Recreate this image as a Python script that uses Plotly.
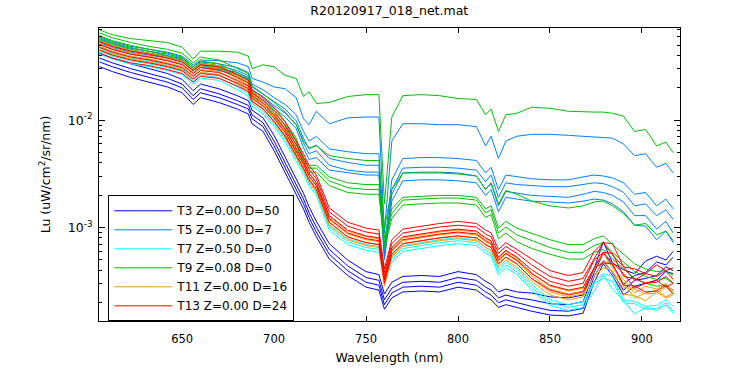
import plotly.graph_objects as go

wavelength_nm = [605, 612, 622, 632, 642, 650, 656, 660, 670, 680, 686, 688, 694, 700, 706, 712,
                 716, 719, 723, 730, 740, 750, 757, 760, 764, 770, 780, 790, 800, 810, 815, 818,
                 822, 826, 832, 840, 850, 860, 868, 874, 879, 884, 890, 896, 902, 908, 913, 917]

# T3 Z=0.00 D=50
t3_a = [0.0421, 0.0379, 0.0335, 0.0302, 0.0272, 0.0240, 0.0188, 0.0217, 0.0196, 0.0169, 0.0152, 0.0124, 0.0105,
        0.00722, 0.00458, 0.00290, 0.00208, 0.00156, 0.00114, 0.000707, 0.000497, 0.000388, 0.000364, 0.000240,
        0.000309, 0.000350, 0.000357, 0.000350, 0.000388, 0.000364, 0.000315, 0.000296, 0.000251, 0.000267, 0.000251,
        0.000245, 0.000226, 0.000221, 0.000235, 0.000412, 0.000737, 0.000467, 0.000404, 0.000372, 0.000487, 0.000540,
        0.000497, 0.000599]
t3_b = [0.0379, 0.0342, 0.0302, 0.0272, 0.0245, 0.0217, 0.0169, 0.0196, 0.0176, 0.0152, 0.0137, 0.0112, 0.00946,
        0.00638, 0.00404, 0.00256, 0.00184, 0.00137, 0.00101, 0.000625, 0.000439, 0.000342, 0.000322, 0.000212,
        0.000272, 0.000309, 0.000315, 0.000309, 0.000342, 0.000322, 0.000278, 0.000261, 0.000221, 0.000235, 0.000221,
        0.000212, 0.000195, 0.000191, 0.000204, 0.000380, 0.000575, 0.000448, 0.000296, 0.000357, 0.000380, 0.000477,
        0.000448, 0.000529]
t3_c = [0.0349, 0.0315, 0.0278, 0.0250, 0.0226, 0.0200, 0.0156, 0.0180, 0.0162, 0.0140, 0.0127, 0.0103, 0.00871,
        0.00575, 0.00364, 0.00231, 0.00166, 0.00124, 0.000907, 0.000563, 0.000396, 0.000309, 0.000290, 0.000191,
        0.000245, 0.000278, 0.000284, 0.000278, 0.000309, 0.000290, 0.000251, 0.000235, 0.000199, 0.000212, 0.000199,
        0.000184, 0.000169, 0.000166, 0.000176, 0.000350, 0.000487, 0.000380, 0.000261, 0.000322, 0.000335, 0.000357,
        0.000430, 0.000396]
t3_d = [0.0315, 0.0284, 0.0250, 0.0226, 0.0204, 0.0180, 0.0140, 0.0162, 0.0146, 0.0127, 0.0114, 0.00926, 0.00785,
        0.00518, 0.00328, 0.00208, 0.00149, 0.00112, 0.000818, 0.000508, 0.000357, 0.000278, 0.000261, 0.000173,
        0.000221, 0.000251, 0.000256, 0.000251, 0.000278, 0.000261, 0.000226, 0.000212, 0.000180, 0.000191, 0.000180,
        0.000166, 0.000153, 0.000150, 0.000159, 0.000309, 0.000458, 0.000357, 0.000235, 0.000284, 0.000302, 0.000322,
        0.000388, 0.000372]

# T5 Z=0.00 D=7
t5_a = [0.0600, 0.0540, 0.0487, 0.0457, 0.0430, 0.0395, 0.0328, 0.0364, 0.0357, 0.0342, 0.0315, 0.0245, 0.0226,
        0.0204, 0.0196, 0.0162, 0.0103, 0.00907, 0.0121, 0.00926, 0.0105, 0.0107, 0.0107, 0.000889, 0.00638,
        0.00926, 0.00926, 0.00907, 0.00907, 0.00871, 0.00575, 0.00708, 0.00439, 0.00638, 0.00708, 0.00738, 0.00738,
        0.00722, 0.00708, 0.00693, 0.00693, 0.00679, 0.00600, 0.00467, 0.00487, 0.00364, 0.00396, 0.00322]
t5_b = [0.0575, 0.0518, 0.0467, 0.0439, 0.0412, 0.0379, 0.0315, 0.0349, 0.0335, 0.0309, 0.0278, 0.0217, 0.0192,
        0.0162, 0.0140, 0.0112, 0.00785, 0.00638, 0.00708, 0.00540, 0.00508, 0.00487, 0.00487, 0.000651, 0.00278,
        0.00439, 0.00448, 0.00448, 0.00439, 0.00421, 0.00322, 0.00364, 0.00226, 0.00308, 0.00296, 0.00284, 0.00278,
        0.00278, 0.00296, 0.00308, 0.00302, 0.00290, 0.00261, 0.00204, 0.00212, 0.00159, 0.00184, 0.00149]
t5_c = [0.0552, 0.0497, 0.0448, 0.0421, 0.0395, 0.0364, 0.0302, 0.0335, 0.0322, 0.0290, 0.0261, 0.0204, 0.0176,
        0.0149, 0.0127, 0.00986, 0.00679, 0.00540, 0.00587, 0.00439, 0.00404, 0.00380, 0.00380, 0.000563, 0.00226,
        0.00357, 0.00364, 0.00364, 0.00357, 0.00342, 0.00267, 0.00308, 0.00191, 0.00261, 0.00251, 0.00245, 0.00240,
        0.00240, 0.00251, 0.00261, 0.00256, 0.00240, 0.00212, 0.00159, 0.00166, 0.00129, 0.00146, 0.00119]
t5_d = [0.0529, 0.0477, 0.0430, 0.0404, 0.0379, 0.0349, 0.0290, 0.0322, 0.0302, 0.0278, 0.0250, 0.0192, 0.0166,
        0.0137, 0.0116, 0.00907, 0.00612, 0.00487, 0.00518, 0.00380, 0.00342, 0.00328, 0.00328, 0.000529, 0.00204,
        0.00322, 0.00328, 0.00328, 0.00322, 0.00302, 0.00226, 0.00256, 0.00159, 0.00217, 0.00208, 0.00199, 0.00195,
        0.00191, 0.00204, 0.00217, 0.00212, 0.00199, 0.00173, 0.00129, 0.00129, 0.000966, 0.00114, 0.000889]
t5_e = [0.0507, 0.0457, 0.0412, 0.0387, 0.0364, 0.0335, 0.0278, 0.0309, 0.0290, 0.0267, 0.0240, 0.0184, 0.0156,
        0.0129, 0.0107, 0.00835, 0.00552, 0.00430, 0.00448, 0.00342, 0.00322, 0.00308, 0.00308, 0.000497, 0.00176,
        0.00272, 0.00278, 0.00278, 0.00272, 0.00261, 0.00199, 0.00226, 0.00140, 0.00191, 0.00184, 0.00176, 0.00173,
        0.00169, 0.00176, 0.00184, 0.00180, 0.00166, 0.00140, 0.00105, 0.00103, 0.000769, 0.000926, 0.000722]

# T7 Z=0.50 D=0
t7_a = [0.0467, 0.0421, 0.0379, 0.0357, 0.0328, 0.0302, 0.0245, 0.0278, 0.0267, 0.0217, 0.0188, 0.0152, 0.0129,
        0.00986, 0.00708, 0.00477, 0.00357, 0.00278, 0.00226, 0.00107, 0.000785, 0.000693, 0.000665, 0.000342,
        0.000540, 0.000679, 0.000722, 0.000769, 0.000801, 0.000769, 0.000651, 0.000612, 0.000412, 0.000477, 0.000412,
        0.000296, 0.000212, 0.000191, 0.000204, 0.000315, 0.000372, 0.000350, 0.000212, 0.000204, 0.000184, 0.000188,
        0.000212, 0.000184]
t7_b = [0.0439, 0.0395, 0.0357, 0.0335, 0.0309, 0.0284, 0.0230, 0.0261, 0.0250, 0.0204, 0.0176, 0.0143, 0.0121,
        0.00926, 0.00665, 0.00448, 0.00335, 0.00261, 0.00212, 0.00101, 0.000737, 0.000651, 0.000625, 0.000322,
        0.000508, 0.000638, 0.000679, 0.000722, 0.000753, 0.000722, 0.000612, 0.000575, 0.000388, 0.000448, 0.000388,
        0.000278, 0.000199, 0.000180, 0.000191, 0.000302, 0.000335, 0.000315, 0.000199, 0.000195, 0.000173, 0.000176,
        0.000199, 0.000166]
t7_c = [0.0412, 0.0372, 0.0335, 0.0315, 0.0290, 0.0267, 0.0217, 0.0245, 0.0235, 0.0192, 0.0166, 0.0135, 0.0114,
        0.00871, 0.00625, 0.00421, 0.00315, 0.00245, 0.00199, 0.000946, 0.000693, 0.000612, 0.000587, 0.000302,
        0.000477, 0.000599, 0.000638, 0.000679, 0.000707, 0.000679, 0.000575, 0.000540, 0.000364, 0.000421, 0.000364,
        0.000261, 0.000188, 0.000169, 0.000180, 0.000256, 0.000364, 0.000267, 0.000208, 0.000156, 0.000180, 0.000169,
        0.000191, 0.000159]

# T9 Z=0.08 D=0
t9_a = [0.0693, 0.0625, 0.0575, 0.0552, 0.0529, 0.0477, 0.0372, 0.0439, 0.0439, 0.0430, 0.0395, 0.0302, 0.0328,
        0.0315, 0.0261, 0.0245, 0.0166, 0.0184, 0.0143, 0.0146, 0.0166, 0.0173, 0.0173, 0.00166, 0.0107,
        0.0169, 0.0173, 0.0169, 0.0159, 0.0156, 0.0112, 0.0127, 0.00785, 0.0112, 0.0116, 0.0132, 0.0129,
        0.0121, 0.0119, 0.0119, 0.0119, 0.0116, 0.0109, 0.00785, 0.00818, 0.00575, 0.00625, 0.00497]
t9_b = [0.0651, 0.0587, 0.0529, 0.0487, 0.0457, 0.0421, 0.0342, 0.0387, 0.0364, 0.0302, 0.0272, 0.0208, 0.0176,
        0.0146, 0.0119, 0.00907, 0.00638, 0.00552, 0.00575, 0.00467, 0.00439, 0.00421, 0.00421, 0.000986, 0.00226,
        0.00322, 0.00322, 0.00322, 0.00315, 0.00302, 0.00226, 0.00261, 0.00166, 0.00221, 0.00204, 0.00176, 0.00159,
        0.00152, 0.00159, 0.00173, 0.00176, 0.00159, 0.00135, 0.00105, 0.00109, 0.000853, 0.000926, 0.000753]
t9_c = [0.0612, 0.0552, 0.0497, 0.0457, 0.0421, 0.0387, 0.0315, 0.0357, 0.0335, 0.0278, 0.0245, 0.0188, 0.0152,
        0.0124, 0.00966, 0.00679, 0.00448, 0.00380, 0.00380, 0.00296, 0.00261, 0.00251, 0.00251, 0.000801, 0.00149,
        0.00191, 0.00195, 0.00199, 0.00199, 0.00191, 0.00149, 0.00159, 0.000986, 0.00114, 0.000986, 0.000889,
        0.000769, 0.000693, 0.000693, 0.000785, 0.000835, 0.000693, 0.000563, 0.000458, 0.000412, 0.000388,
        0.000396, 0.000357]
t9_d = [0.0587, 0.0529, 0.0477, 0.0439, 0.0404, 0.0372, 0.0302, 0.0342, 0.0322, 0.0267, 0.0235, 0.0180, 0.0146,
        0.0116, 0.00907, 0.00638, 0.00421, 0.00357, 0.00357, 0.00272, 0.00235, 0.00226, 0.00226, 0.000722, 0.00135,
        0.00180, 0.00184, 0.00188, 0.00188, 0.00180, 0.00137, 0.00146, 0.000889, 0.00101, 0.000853, 0.000753,
        0.000651, 0.000587, 0.000587, 0.000679, 0.000722, 0.000587, 0.000477, 0.000388, 0.000350, 0.000328,
        0.000335, 0.000302]
t9_e = [0.0563, 0.0507, 0.0457, 0.0421, 0.0387, 0.0357, 0.0290, 0.0328, 0.0309, 0.0256, 0.0226, 0.0169, 0.0137,
        0.0109, 0.00853, 0.00600, 0.00396, 0.00328, 0.00328, 0.00245, 0.00212, 0.00204, 0.00204, 0.000651, 0.00121,
        0.00162, 0.00166, 0.00169, 0.00169, 0.00162, 0.00124, 0.00132, 0.000785, 0.000889, 0.000737, 0.000638,
        0.000563, 0.000508, 0.000508, 0.000587, 0.000625, 0.000508, 0.000412, 0.000335, 0.000302, 0.000284,
        0.000290, 0.000261]

# T11 Z=0.00 D=16
t11_a = [0.0552, 0.0497, 0.0448, 0.0421, 0.0387, 0.0357, 0.0296, 0.0335, 0.0322, 0.0261, 0.0226, 0.0184, 0.0156,
         0.0116, 0.00835, 0.00552, 0.00413, 0.00322, 0.00261, 0.00126, 0.000926, 0.000818, 0.000785, 0.000342,
         0.000638, 0.000801, 0.000853, 0.000907, 0.000946, 0.000907, 0.000785, 0.000737, 0.000518, 0.000599,
         0.000518, 0.000380, 0.000284, 0.000256, 0.000272, 0.000404, 0.000575, 0.000421, 0.000328, 0.000245,
         0.000284, 0.000267, 0.000302, 0.000251]
t11_b = [0.0518, 0.0467, 0.0421, 0.0395, 0.0364, 0.0335, 0.0278, 0.0315, 0.0302, 0.0245, 0.0212, 0.0173, 0.0146,
         0.0109, 0.00785, 0.00518, 0.00388, 0.00302, 0.00245, 0.00119, 0.000870, 0.000769, 0.000737, 0.000322,
         0.000599, 0.000753, 0.000801, 0.000853, 0.000889, 0.000853, 0.000737, 0.000693, 0.000487, 0.000563,
         0.000487, 0.000357, 0.000267, 0.000240, 0.000256, 0.000412, 0.000487, 0.000458, 0.000278, 0.000267,
         0.000240, 0.000245, 0.000278, 0.000240]
t11_c = [0.0487, 0.0439, 0.0395, 0.0372, 0.0342, 0.0315, 0.0261, 0.0296, 0.0284, 0.0230, 0.0200, 0.0162, 0.0137,
         0.0103, 0.00738, 0.00487, 0.00364, 0.00284, 0.00231, 0.00112, 0.000818, 0.000722, 0.000693, 0.000302,
         0.000563, 0.000707, 0.000753, 0.000801, 0.000835, 0.000801, 0.000693, 0.000651, 0.000458, 0.000529,
         0.000458, 0.000335, 0.000251, 0.000226, 0.000240, 0.000350, 0.000497, 0.000380, 0.000302, 0.000221,
         0.000245, 0.000261, 0.000226, 0.000245]
t11_d = [0.0457, 0.0412, 0.0372, 0.0349, 0.0322, 0.0296, 0.0245, 0.0278, 0.0267, 0.0217, 0.0188, 0.0152, 0.0129,
         0.00966, 0.00693, 0.00458, 0.00342, 0.00267, 0.00217, 0.00105, 0.000769, 0.000679, 0.000651, 0.000284,
         0.000529, 0.000665, 0.000707, 0.000753, 0.000785, 0.000753, 0.000651, 0.000612, 0.000430, 0.000497,
         0.000430, 0.000315, 0.000235, 0.000212, 0.000226, 0.000350, 0.000421, 0.000396, 0.000240, 0.000231,
         0.000208, 0.000251, 0.000221, 0.000235]

# T13 Z=0.00 D=24
t13_a = [0.0540, 0.0487, 0.0439, 0.0412, 0.0379, 0.0349, 0.0290, 0.0328, 0.0315, 0.0267, 0.0235, 0.0192, 0.0162,
         0.0132, 0.00966, 0.00651, 0.00487, 0.00380, 0.00308, 0.00152, 0.00112, 0.000986, 0.000946, 0.000412,
         0.000769, 0.000966, 0.00103, 0.00109, 0.00114, 0.00109, 0.000946, 0.000889, 0.000625, 0.000722, 0.000625,
         0.000508, 0.000396, 0.000357, 0.000380, 0.000599, 0.000722, 0.000707, 0.000430, 0.000412, 0.000372,
         0.000448, 0.000396, 0.000421]
t13_b = [0.0507, 0.0457, 0.0412, 0.0387, 0.0357, 0.0328, 0.0272, 0.0309, 0.0296, 0.0250, 0.0221, 0.0180, 0.0152,
         0.0121, 0.00889, 0.00600, 0.00448, 0.00350, 0.00284, 0.00140, 0.00103, 0.000907, 0.000870, 0.000380,
         0.000707, 0.000889, 0.000946, 0.00101, 0.00105, 0.00101, 0.000870, 0.000818, 0.000575, 0.000665, 0.000575,
         0.000448, 0.000350, 0.000315, 0.000335, 0.000508, 0.000722, 0.000552, 0.000430, 0.000322, 0.000372,
         0.000350, 0.000396, 0.000328]
t13_c = [0.0477, 0.0430, 0.0387, 0.0364, 0.0335, 0.0309, 0.0256, 0.0290, 0.0278, 0.0235, 0.0208, 0.0169, 0.0143,
         0.0112, 0.00818, 0.00552, 0.00413, 0.00322, 0.00261, 0.00129, 0.000946, 0.000835, 0.000801, 0.000350,
         0.000651, 0.000818, 0.000870, 0.000926, 0.000966, 0.000926, 0.000801, 0.000753, 0.000529, 0.000612,
         0.000529, 0.000404, 0.000315, 0.000284, 0.000302, 0.000497, 0.000587, 0.000575, 0.000350, 0.000335,
         0.000302, 0.000309, 0.000350, 0.000302]
t13_d = [0.0448, 0.0404, 0.0364, 0.0342, 0.0315, 0.0290, 0.0240, 0.0272, 0.0261, 0.0221, 0.0196, 0.0159, 0.0135,
         0.0105, 0.00769, 0.00518, 0.00388, 0.00302, 0.00245, 0.00121, 0.000889, 0.000785, 0.000753, 0.000328,
         0.000612, 0.000769, 0.000818, 0.000870, 0.000907, 0.000870, 0.000753, 0.000707, 0.000497, 0.000575,
         0.000497, 0.000372, 0.000290, 0.000261, 0.000278, 0.000412, 0.000587, 0.000467, 0.000372, 0.000272,
         0.000302, 0.000322, 0.000278, 0.000302]
t13_e = [0.0421, 0.0379, 0.0342, 0.0322, 0.0296, 0.0272, 0.0226, 0.0256, 0.0245, 0.0208, 0.0184, 0.0149, 0.0127,
         0.00966, 0.00708, 0.00477, 0.00357, 0.00278, 0.00226, 0.00112, 0.000818, 0.000722, 0.000693, 0.000302,
         0.000563, 0.000707, 0.000753, 0.000801, 0.000835, 0.000801, 0.000693, 0.000651, 0.000458, 0.000529,
         0.000458, 0.000335, 0.000261, 0.000235, 0.000251, 0.000421, 0.000467, 0.000458, 0.000290, 0.000284,
         0.000251, 0.000256, 0.000290, 0.000240]

legend_labels = ["T3 Z=0.00 D=50", "T5 Z=0.00 D=7", "T7 Z=0.50 D=0",
                 "T9 Z=0.08 D=0", "T11 Z=0.00 D=16", "T13 Z=0.00 D=24"]
group_colors = ["#0000FF", "#0080FF", "#00FFFF", "#00C000", "#FF9900", "#FF0000"]
group_series = [
    [t3_a, t3_b, t3_c, t3_d],
    [t5_a, t5_b, t5_c, t5_d, t5_e],
    [t7_a, t7_b, t7_c],
    [t9_a, t9_b, t9_c, t9_d, t9_e],
    [t11_a, t11_b, t11_c, t11_d],
    [t13_a, t13_b, t13_c, t13_d, t13_e],
]

y_major = [1e-3, 1e-2]
y_major_text = ["10<sup>-3</sup>", "10<sup>-2</sup>"]
y_minor = [2e-4, 3e-4, 4e-4, 5e-4, 6e-4, 7e-4, 8e-4, 9e-4,
           2e-3, 3e-3, 4e-3, 5e-3, 6e-3, 7e-3, 8e-3, 9e-3,
           2e-2, 3e-2, 4e-2, 5e-2, 6e-2, 7e-2]
x_ticks = [650, 700, 750, 800, 850, 900]

fig = go.Figure()
for label, color, series in zip(legend_labels, group_colors, group_series):
    for i, s in enumerate(series):
        fig.add_trace(go.Scatter(
            x=wavelength_nm, y=s, mode="lines",
            line=dict(color=color, width=1),
            name=label, legendgroup=label, showlegend=(i == 0),
        ))

FONT = "DejaVu Sans, Liberation Sans, Arial, sans-serif"
fig.update_layout(
    width=750, height=375,
    margin=dict(l=99, r=70, t=28, b=44),
    paper_bgcolor="white", plot_bgcolor="white",
    font=dict(family=FONT, size=12, color="black"),
    title=dict(text="R20120917_018_net.mat", x=0.519, xanchor="center",
               y=0.973, yanchor="middle", font=dict(size=12.5, family=FONT)),
    showlegend=True,
    legend=dict(x=0.016, y=0.429, xanchor="left", yanchor="top",
                bordercolor="black", borderwidth=1, bgcolor="white",
                font=dict(size=12, family=FONT), itemwidth=58, tracegroupgap=0),
)
fig.update_xaxes(
    range=[604.8, 920.7], tickvals=x_ticks, ticks="inside", ticklen=5,
    tickcolor="black", showline=True, linecolor="black", linewidth=1,
    mirror="ticks", showgrid=False, zeroline=False, ticklabelstandoff=7,
    tickfont=dict(size=11.5, family=FONT),
    title=dict(text="Wavelength (nm)", standoff=8, font=dict(size=12.5, family=FONT)),
)
fig.update_yaxes(
    type="log", range=[-3.8712, -1.1414], tickvals=y_major, ticktext=y_major_text,
    ticks="inside", ticklen=6, tickcolor="black", ticklabelstandoff=3,
    minor=dict(tickmode="array", tickvals=y_minor, ticks="inside", ticklen=3, tickcolor="black", showgrid=False),
    showline=True, linecolor="black", linewidth=1, mirror="ticks",
    showgrid=False, zeroline=False,
    tickfont=dict(size=12.5, family=FONT),
    title=dict(text="Lu (uW/cm<sup>2</sup>/sr/nm)", standoff=14, font=dict(size=12.5, family=FONT)),
)

fig.write_html("out.html", config={"displayModeBar": False},
               post_script="document.body.style.margin='0px';document.body.style.overflow='hidden';")
